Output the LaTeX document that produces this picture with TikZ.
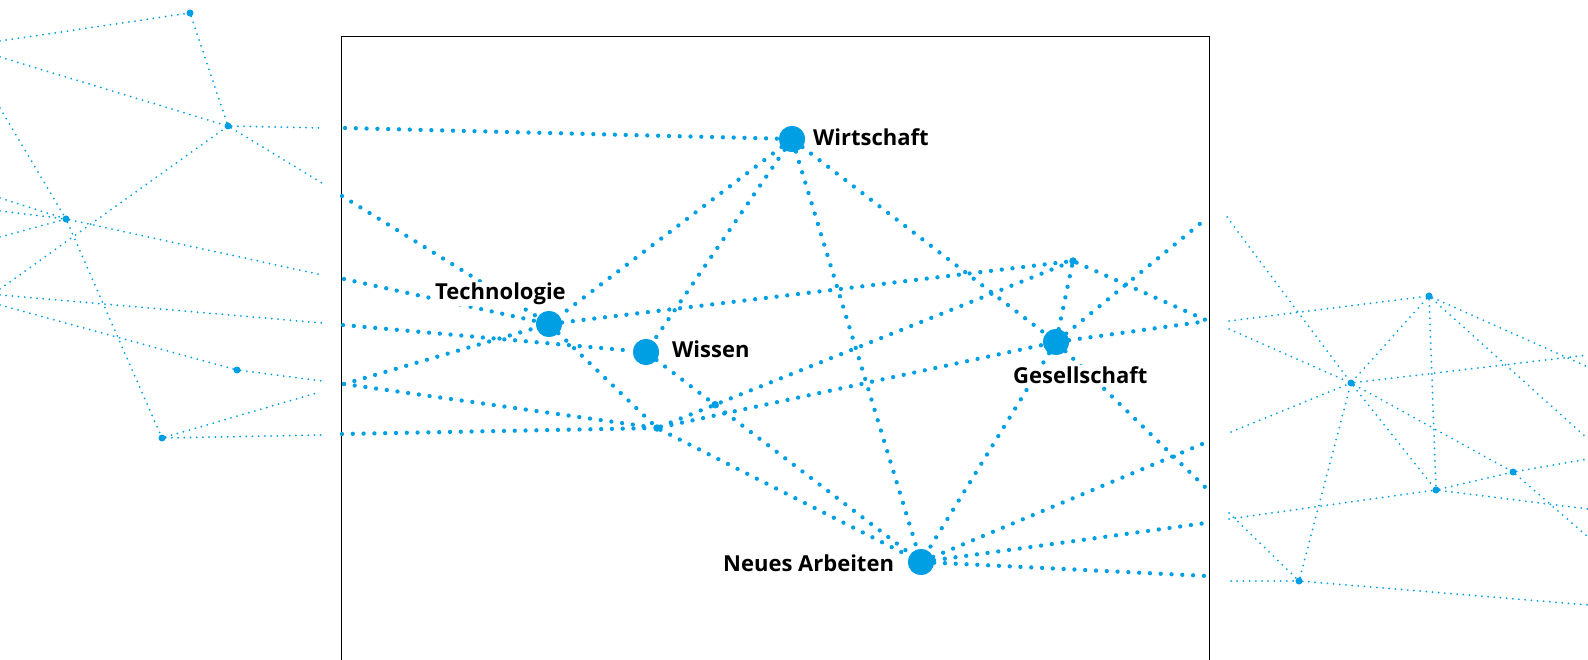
\documentclass[tikz,border=0pt]{standalone}
\usepackage{fontspec}
\setmainfont{Open Sans}
\definecolor{netblue}{RGB}{0,159,227}
\begin{document}
\begin{tikzpicture}[x=1pt,y=-1pt,
  hub/.style={circle,fill=netblue,minimum size=26pt,inner sep=0pt},
  knot/.style={circle,fill=netblue,minimum size=7.5pt,inner sep=0pt},
  pin/.style={circle,fill=netblue,minimum size=7pt,inner sep=0pt},
  link/.style={draw=netblue,line width=4.3pt,line cap=round,dash pattern=on 0pt off 10.8pt},
  thread/.style={draw=netblue,line width=2pt,line cap=round,dash pattern=on 0pt off 6.2pt},
  caption/.style={font=\fontsize{22}{26}\selectfont\bfseries,text=black,fill=white,inner sep=1pt,anchor=base west},
]
\useasboundingbox (0,0) rectangle (1588,660);

% ---------- frame ----------
\draw[black,line width=1pt] (341,661) -- (341,37) -- (1209,37) -- (1209,661);

% ---------- central network ----------
\node[hub] (W)  at (792,139) {};
\node[hub] (T)  at (549,324) {};
\node[hub] (Wi) at (646,352) {};
\node[hub] (G)  at (1056,342) {};
\node[hub] (N)  at (921,562) {};
\node[knot] (S1) at (1073,261) {};
\node[knot] (X2) at (657,428) {};
\coordinate (X1) at (intersection of Wi--N and X2--S1);

\coordinate (E1) at (345,128);
\coordinate (E2) at (342,196);
\coordinate (E3) at (344,279);
\coordinate (E4) at (343,325);
\coordinate (E5) at (344,384);
\coordinate (E6) at (342,434);
\coordinate (R1) at (1207,218);
\coordinate (R2) at (1208,321);
\coordinate (R3) at (1207,442);
\coordinate (R4) at (1205,487);
\coordinate (R5) at (1206,523);
\coordinate (R6) at (1207,576);

\begin{scope}[link]
  \draw (E1) -- (W);
  \draw (E2) -- (T);
  \draw (E3) -- (T);
  \draw (E4) -- (Wi);
  \draw (E5) -- (T);
  \draw (E5) -- (X2);
  \draw (E6) -- (X2);
  \draw (W) -- (T);
  \draw (W) -- (Wi);
  \draw (W) -- (N);
  \draw (W) -- (G);
  \draw (T) -- (S1);
  \draw (T) -- (X2);
  \draw (Wi) -- (N);
  \draw (X2) -- (N);
  \draw (X2) -- (G);
  \draw (X2) -- (S1);
  \draw (G) -- (S1);
  \draw (G) -- (R1);
  \draw (G) -- (R2);
  \draw (G) -- (R4);
  \draw (G) -- (N);
  \draw (S1) -- (R2);
  \draw (N) -- (R3);
  \draw (N) -- (R5);
  \draw (N) -- (R6);
\end{scope}

\node[knot] (X1dot) at (X1) {};
\node[hub] at (W) {};
\node[hub] at (T) {};
\node[hub] at (Wi) {};
\node[hub] at (G) {};
\node[hub] at (N) {};

\node[caption] (lW)  at (812,146) {Wirtschaft};
\node[caption] (lT)  at (434,300) {Technologie};
\node[caption] (lWi) at (671,357) {Wissen};
\node[caption] (lG)  at (1012,383) {Gesellschaft};
\node[caption] (lN)  at (722,571) {Neues Arbeiten};

% ---------- left fringe ----------
\node[pin] (A1) at (190,13) {};
\node[pin] (A2) at (228,126) {};
\node[pin] (A3) at (66,219) {};
\node[pin] (A4) at (237,370) {};
\node[pin] (A5) at (162,438) {};
\coordinate (a1) at (0,41);
\coordinate (a2) at (0,57);
\coordinate (a3) at (0,108);
\coordinate (a4) at (0,198);
\coordinate (a5) at (0,211);
\coordinate (a6) at (0,237);
\coordinate (a7) at (0,289);
\coordinate (a8) at (0,295);
\coordinate (a9) at (0,305);
\coordinate (p1) at (322,323);
\coordinate (p2) at (323,128);
\coordinate (p3) at (322,183);
\coordinate (p4) at (322,275);
\coordinate (p5) at (322,381);
\coordinate (p6) at (320,392);
\coordinate (p7) at (322,435);
\begin{scope}[thread]
  \draw (a1) -- (A1);
  \draw (a2) -- (A2);
  \draw (a3) -- (A3);
  \draw (a4) -- (A3);
  \draw (a5) -- (A3);
  \draw (a6) -- (A3);
  \draw (a7) -- (A2);
  \draw (a8) -- (p1);
  \draw (a9) -- (A4);
  \draw (A1) -- (A2);
  \draw (A2) -- (p2);
  \draw (A2) -- (p3);
  \draw (A3) -- (p4);
  \draw (A3) -- (A5);
  \draw (A4) -- (p5);
  \draw (A5) -- (p6);
  \draw (A5) -- (p7);
\end{scope}

% ---------- right fringe ----------
\node[pin] (B1) at (1429,296) {};
\node[pin] (B2) at (1351,383) {};
\node[pin] (B3) at (1513,472) {};
\node[pin] (B4) at (1436,490) {};
\node[pin] (B5) at (1299,581) {};
\coordinate (b1) at (1227,217);
\coordinate (b2) at (1229,321);
\coordinate (b3) at (1229,329);
\coordinate (b4) at (1231,432);
\coordinate (b5) at (1229,513);
\coordinate (b6) at (1229,519);
\coordinate (b7) at (1231,581);
\coordinate (q1) at (1588,367);
\coordinate (q2) at (1588,439);
\coordinate (q3) at (1588,355);
\coordinate (q4) at (1588,459);
\coordinate (q5) at (1588,537);
\coordinate (q6) at (1588,509);
\coordinate (q7) at (1588,605);
\begin{scope}[thread]
  \draw (b1) -- (B2);
  \draw (b2) -- (B1);
  \draw (b3) -- (B2);
  \draw (b4) -- (B2);
  \draw (b5) -- (B5);
  \draw (b6) -- (B4);
  \draw (b7) -- (B5);
  \draw (B1) -- (B2);
  \draw (B1) -- (B4);
  \draw (B2) -- (B4);
  \draw (B2) -- (B3);
  \draw (B4) -- (B3);
  \draw (B5) -- (B2);
  \draw (B1) -- (q1);
  \draw (B1) -- (q2);
  \draw (B2) -- (q3);
  \draw (B3) -- (q4);
  \draw (B3) -- (q5);
  \draw (B4) -- (q6);
  \draw (B5) -- (q7);
\end{scope}
\end{tikzpicture}
\end{document}
